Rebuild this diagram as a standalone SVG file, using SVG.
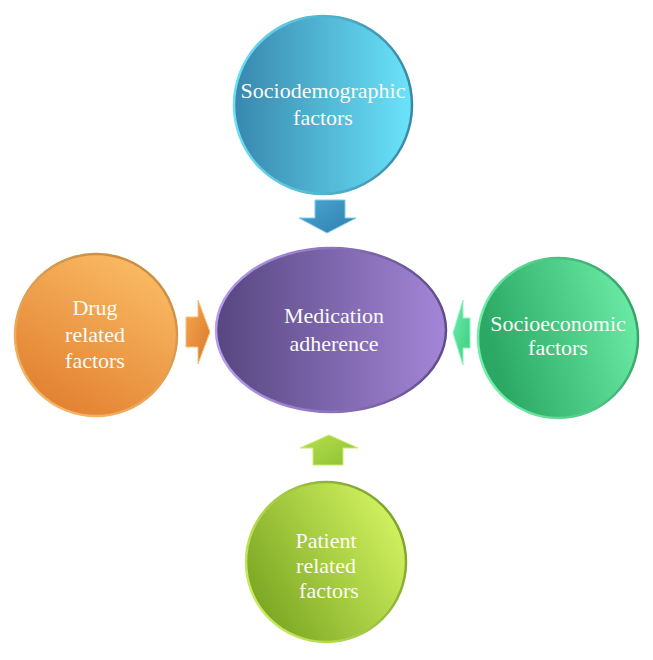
<svg xmlns="http://www.w3.org/2000/svg" width="653" height="660" viewBox="0 0 653 660">
<defs>
<linearGradient id="gTop" x1="0" y1="0" x2="1" y2="0"><stop offset="0" stop-color="#3887ae"/><stop offset="1" stop-color="#6ae4fa"/></linearGradient>
<linearGradient id="sTop" x1="0" y1="0" x2="1" y2="0"><stop offset="0" stop-color="#6ae0f6"/><stop offset="1" stop-color="#3a88a6"/></linearGradient>
<linearGradient id="gMid" x1="0" y1="0" x2="1" y2="0"><stop offset="0" stop-color="#574680"/><stop offset="1" stop-color="#a486d8"/></linearGradient>
<linearGradient id="sMid" x1="0" y1="0" x2="1" y2="0"><stop offset="0" stop-color="#b69cf0"/><stop offset="1" stop-color="#5e4c88"/></linearGradient>
<linearGradient id="gLeft" x1="0.2" y1="1" x2="0.8" y2="0"><stop offset="0" stop-color="#e07e2e"/><stop offset="1" stop-color="#fbbd66"/></linearGradient>
<linearGradient id="sLeft" x1="0.2" y1="1" x2="0.8" y2="0"><stop offset="0" stop-color="#f8b866"/><stop offset="1" stop-color="#c88a40"/></linearGradient>
<linearGradient id="gRight" x1="0" y1="0.3" x2="1" y2="0"><stop offset="0" stop-color="#2aa864"/><stop offset="1" stop-color="#72f2ad"/></linearGradient>
<linearGradient id="sRight" x1="0" y1="0.3" x2="1" y2="0"><stop offset="0" stop-color="#70eeaa"/><stop offset="1" stop-color="#2e9a60"/></linearGradient>
<linearGradient id="gBot" x1="0" y1="0.8" x2="1" y2="0.2"><stop offset="0" stop-color="#76a21e"/><stop offset="1" stop-color="#d6f664"/></linearGradient>
<linearGradient id="sBot" x1="0" y1="0.8" x2="1" y2="0.2"><stop offset="0" stop-color="#cdf066"/><stop offset="1" stop-color="#7a9e28"/></linearGradient>
<linearGradient id="aTop" x1="0" y1="0" x2="1" y2="1"><stop offset="0" stop-color="#4aa6d0"/><stop offset="1" stop-color="#2f7fae"/></linearGradient>
<linearGradient id="aLeft" x1="0" y1="0" x2="1" y2="1"><stop offset="0" stop-color="#f6a850"/><stop offset="1" stop-color="#d8782a"/></linearGradient>
<linearGradient id="aRight" x1="0" y1="0" x2="1" y2="1"><stop offset="0" stop-color="#6cecaa"/><stop offset="1" stop-color="#3ccc80"/></linearGradient>
<linearGradient id="aBot" x1="0" y1="0" x2="1" y2="1"><stop offset="0" stop-color="#b8e050"/><stop offset="1" stop-color="#8cc030"/></linearGradient>
</defs>
<style>
text{font-family:"Liberation Serif","DejaVu Serif",serif;fill:#fbfbf6;text-anchor:middle;font-size:22px}
.node{stroke-width:2.5}
</style>
<rect width="653" height="660" fill="#ffffff"/>
<g id="connectors">
<path d="M315,200 H345 V218 H356 L327,233 L299,218 H315 Z" fill="url(#aTop)" stroke="#7ccbe8" stroke-width="1"/>
<path d="M186,317 H198 V300 L210,332 L198,364 V347 H186 Z" fill="url(#aLeft)" stroke="#f8c080" stroke-width="1"/>
<path d="M470,318 V348 H463 V365 L453,333 L463,300 V318 Z" fill="url(#aRight)" stroke="#8ef5c0" stroke-width="1"/>
<path d="M313,465 H343 V448 H358 L329,435 L300,448 H313 Z" fill="url(#aBot)" stroke="#c8ee70" stroke-width="1"/>
</g>
<g id="n-top">
<circle class="node" cx="323" cy="105" r="89" fill="url(#gTop)" stroke="url(#sTop)"/>
<text x="323" y="98">Sociodemographic</text>
<text x="323" y="125">factors</text>
</g>
<g id="n-center">
<ellipse class="node" cx="331" cy="330" rx="115" ry="82" fill="url(#gMid)" stroke="url(#sMid)"/>
<text x="334" y="323">Medication</text>
<text x="334" y="351">adherence</text>
</g>
<g id="n-left">
<circle class="node" cx="96" cy="335" r="81" fill="url(#gLeft)" stroke="url(#sLeft)"/>
<text x="95" y="315">Drug</text>
<text x="95" y="342">related</text>
<text x="95" y="368">factors</text>
</g>
<g id="n-right">
<circle class="node" cx="558" cy="338" r="80" fill="url(#gRight)" stroke="url(#sRight)"/>
<text x="558" y="331">Socioeconomic</text>
<text x="558" y="355">factors</text>
</g>
<g id="n-bottom">
<circle class="node" cx="326" cy="562" r="80" fill="url(#gBot)" stroke="url(#sBot)"/>
<text x="326" y="548">Patient</text>
<text x="326" y="573">related</text>
<text x="329" y="598">factors</text>
</g>
</svg>
